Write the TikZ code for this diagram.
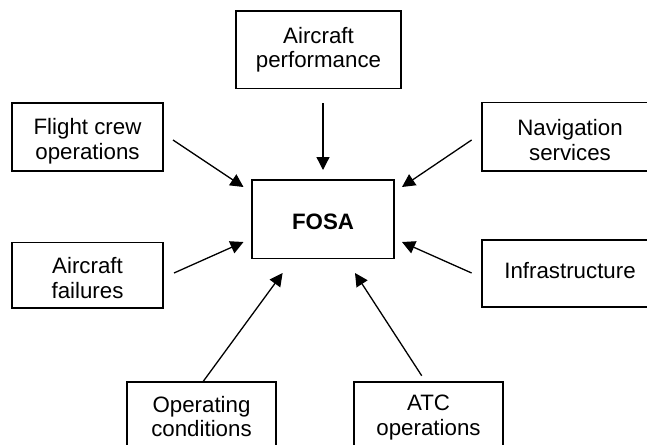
\documentclass[tikz,border=0pt]{standalone}
\usepackage{fontspec}
\setmainfont{Liberation Sans}
\usetikzlibrary{arrows.meta}

\tikzset{
	factor/.style={draw, line width=1.6pt, align=center, inner sep=0pt, text depth=0pt, font=\fontsize{22.3}{24.5}\selectfont},
	link/.style={-{Triangle[length=13pt,width=13pt]}, line width=1.3pt},
}

\begin{document}
\begin{tikzpicture}[x=1pt,y=-1pt]

	\useasboundingbox (0,0) rectangle (647,444);

	% FOSA in the middle
	\node[factor, minimum width=142pt, minimum height=78.3pt, text height=20.2pt, font=\fontsize{22.3}{24.5}\selectfont\bfseries] (fosa) at (323,219.2) {FOSA};
	% factors round it
	\node[factor, minimum width=165pt, minimum height=77.3pt, text height=36pt] (perf) at (318.5,49.7) {Aircraft\\performance};
	\node[factor, minimum width=151pt, minimum height=68pt, text height=44pt] (crew) at (87.5,137) {Flight crew\\operations};
	\node[factor, minimum width=176pt, minimum height=68.7pt, text height=46.6pt] (nav) at (570,136.7) {Navigation\\services};
	\node[factor, minimum width=151pt, minimum height=65.4pt, text height=46.6pt] (fail) at (87.5,275) {Aircraft\\failures};
	\node[factor, minimum width=176pt, minimum height=66.7pt, text height=16pt, text depth=7pt] (infra) at (570,273.5) {Infrastructure};
	\node[factor, minimum width=149pt, minimum height=72pt, text height=38pt] (opcond) at (201.5,417.7) {Operating\\conditions};
	\node[factor, minimum width=149pt, minimum height=72pt, text height=34.6pt] (atc) at (428.5,417.7) {ATC\\operations};

	% arrow ends
	\coordinate (perf-out) at (323,103);
	\coordinate (crew-out) at (173,140);
	\coordinate (nav-out) at (471.6,140);
	\coordinate (fail-out) at (174,273);
	\coordinate (infra-out) at (471.6,273);
	\coordinate (opcond-out) at (203,381.7);
	\coordinate (atc-out) at (421.7,375.7);
	\coordinate (fosa-n) at (323,170);
	\coordinate (fosa-nw) at (243.5,187);
	\coordinate (fosa-ne) at (402,187);
	\coordinate (fosa-w) at (243.5,242);
	\coordinate (fosa-e) at (402,242);
	\coordinate (fosa-sw) at (282.6,273);
	\coordinate (fosa-se) at (355,273);

	% arrows into FOSA
	\draw[link] (perf-out) -- (fosa-n);
	\draw[link] (crew-out) -- (fosa-nw);
	\draw[link] (nav-out) -- (fosa-ne);
	\draw[link] (fail-out) -- (fosa-w);
	\draw[link] (infra-out) -- (fosa-e);
	\draw[link] (opcond-out) -- (fosa-sw);
	\draw[link] (atc-out) -- (fosa-se);

\end{tikzpicture}
\end{document}
